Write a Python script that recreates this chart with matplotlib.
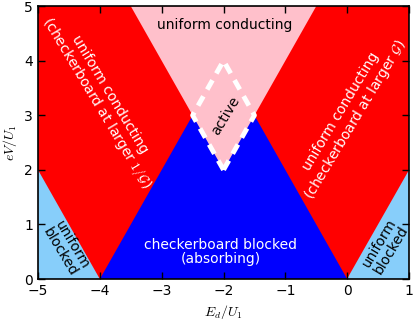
import matplotlib
matplotlib.use("Agg")
import matplotlib.pyplot as plt
from matplotlib.patches import Polygon

plt.rcParams['mathtext.fontset'] = 'cm'

# region polygons (data coordinates: E_d/U_1, eV/U_1)
xlim = [-5, 1]
ylim = [0, 5]
red_bg = [(-5, 0), (1, 0), (1, 5), (-5, 5)]
blocked_left = [(-5, 0), (-4, 0), (-5, 2)]
blocked_right = [(0, 0), (1, 0), (1, 2)]
checker = [(-4, 0), (0, 0), (-2, 4)]
uniform_top = [(-3.5, 5), (-0.5, 5), (-2, 2)]
active = [(-2, 2), (-2.5, 3), (-2, 4), (-1.5, 3), (-2, 2)]

fig = plt.figure(figsize=(4.15, 3.23), dpi=100)
ax = fig.add_axes([0.0916, 0.136, 0.894, 0.845])

ax.add_patch(Polygon(red_bg, closed=True, facecolor='red', edgecolor='none'))
ax.add_patch(Polygon(blocked_left, closed=True, facecolor='lightskyblue', edgecolor='none'))
ax.add_patch(Polygon(blocked_right, closed=True, facecolor='lightskyblue', edgecolor='none'))
ax.add_patch(Polygon(checker, closed=True, facecolor='blue', edgecolor='none'))
ax.add_patch(Polygon(uniform_top, closed=True, facecolor='pink', edgecolor='none'))
ax.plot([p[0] for p in active], [p[1] for p in active], color='white', lw=3.5, ls='--', dashes=(2.2, 1.6))

ax.set_xlim(xlim)
ax.set_ylim(ylim)
ax.set_xlabel(r'$E_d/U_1$', fontsize=10)
ax.set_ylabel(r'$eV/U_1$', fontsize=10)
ax.tick_params(direction='in', top=True, right=True, labelsize=10, length=5, width=1)
for s in ax.spines.values():
    s.set_linewidth(1.2)
ax.set_xticks([-5, -4, -3, -2, -1, 0, 1])
ax.set_yticks([0, 1, 2, 3, 4, 5])

fs = 10
rot = 59
ax.text(-1.98, 4.66, 'uniform conducting', ha='center', va='center', fontsize=fs, color='black')
ax.text(-3.96, 3.3, 'uniform conducting\n' + r'(checkerboard at larger $1/\mathcal{G}$)',
        ha='center', va='center', fontsize=fs, color='white', rotation=-rot,
        linespacing=1.0, rotation_mode='anchor')
ax.text(0.03, 2.99, 'uniform conducting\n' + r'(checkerboard at larger $\mathcal{G}$)',
        ha='center', va='center', fontsize=fs, color='white', rotation=rot,
        linespacing=1.0, rotation_mode='anchor')
ax.text(-4.54, 0.56, 'uniform\nblocked', ha='center', va='center', fontsize=fs,
        color='black', rotation=-rot, linespacing=1.0, rotation_mode='anchor')
ax.text(0.62, 0.6, 'uniform\nblocked', ha='center', va='center', fontsize=fs,
        color='black', rotation=rot, linespacing=1.0, rotation_mode='anchor')
ax.text(-2.05, 0.49, 'checkerboard blocked\n(absorbing)', ha='center', va='center',
        fontsize=fs, color='white', linespacing=1.0)
ax.text(-1.97, 2.99, 'active', ha='center', va='center', fontsize=fs, color='black',
        rotation=rot, rotation_mode='anchor')

fig.savefig('out.png', dpi=100)
